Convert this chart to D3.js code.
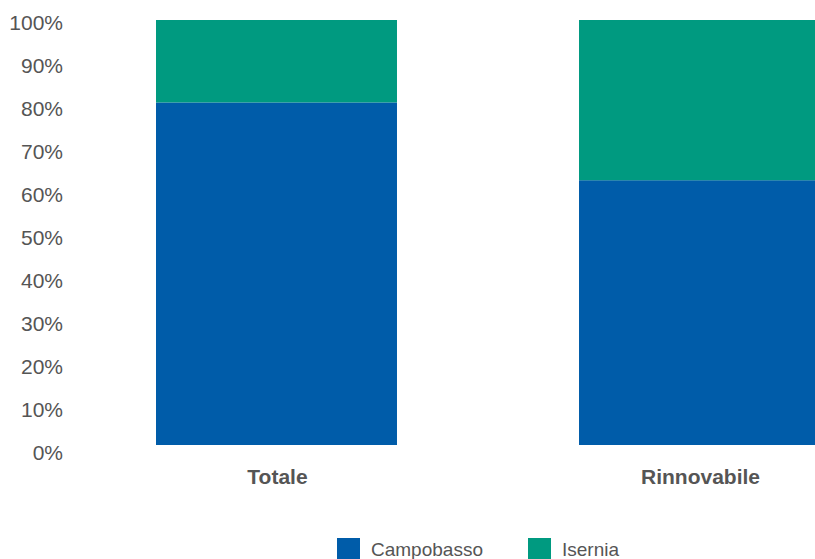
<!DOCTYPE html>
<html>
<head>
<meta charset="utf-8">
<script src="https://cdn.jsdelivr.net/npm/d3@7/dist/d3.min.js"></script>
<style>
  html, body { margin: 0; padding: 0; background: #fff; }
  svg { display: block; }
  text { font-family: "Liberation Sans", Arial, Helvetica, sans-serif; }
</style>
</head>
<body>
<svg id="chart" width="815" height="559"></svg>
<script>
const categories = ["Totale", "Rinnovabile"];
const seriesNames = ["Campobasso", "Isernia"];
const campobasso = [0.806, 0.623];
const isernia = [0.194, 0.377];
const tickValues = [0, 0.1, 0.2, 0.3, 0.4, 0.5, 0.6, 0.7, 0.8, 0.9, 1.0];
const tickLabels = ["0%", "10%", "20%", "30%", "40%", "50%", "60%", "70%", "80%", "90%", "100%"];
const colors = ["#005ca9", "#009a80"];

const svg = d3.select("#chart");

const y = d3.scaleLinear().domain([0, 1]).range([445, 20]);
const yLabel = d3.scaleLinear().domain([0, 1]).range([452, 22]);
const x = d3.scaleBand().domain(categories).range([65, 911])
  .paddingInner(0.4303).paddingOuter(0.21513);

const table = categories.map((c, i) => ({ cat: c, Campobasso: campobasso[i], Isernia: isernia[i] }));
const stacked = d3.stack().keys(seriesNames)(table);

svg.append("g").selectAll("g").data(stacked).join("g")
  .attr("fill", (d, i) => colors[i])
  .selectAll("rect").data(d => d).join("rect")
  .attr("x", d => x(d.data.cat))
  .attr("width", x.bandwidth())
  .attr("y", d => y(d[1]))
  .attr("height", d => y(d[0]) - y(d[1]));

// Y tick labels
svg.append("g").selectAll("text").data(tickValues).join("text")
  .attr("x", 63)
  .attr("y", d => yLabel(d))
  .attr("dy", "0.36em")
  .attr("text-anchor", "end")
  .attr("fill", "#555")
  .attr("font-size", 21)
  .text((d, i) => tickLabels[i]);

// Category labels
svg.append("g").selectAll("text").data(categories).join("text")
  .attr("x", d => x(d) + x.bandwidth() / 2 + 1)
  .attr("y", 476)
  .attr("dy", "0.36em")
  .attr("text-anchor", "middle")
  .attr("fill", "#555")
  .attr("font-size", 21)
  .attr("font-weight", "bold")
  .text(d => d);

// Legend
const legendX = [337, 528];
const lg = svg.append("g").selectAll("g").data(seriesNames).join("g")
  .attr("transform", (d, i) => `translate(${legendX[i]},538)`);
lg.append("rect").attr("width", 23).attr("height", 21).attr("fill", (d, i) => colors[i]);
lg.append("text").attr("x", 34).attr("y", 11).attr("dy", "0.36em")
  .attr("fill", "#555").attr("font-size", 19).text(d => d);
</script>
</body>
</html>
